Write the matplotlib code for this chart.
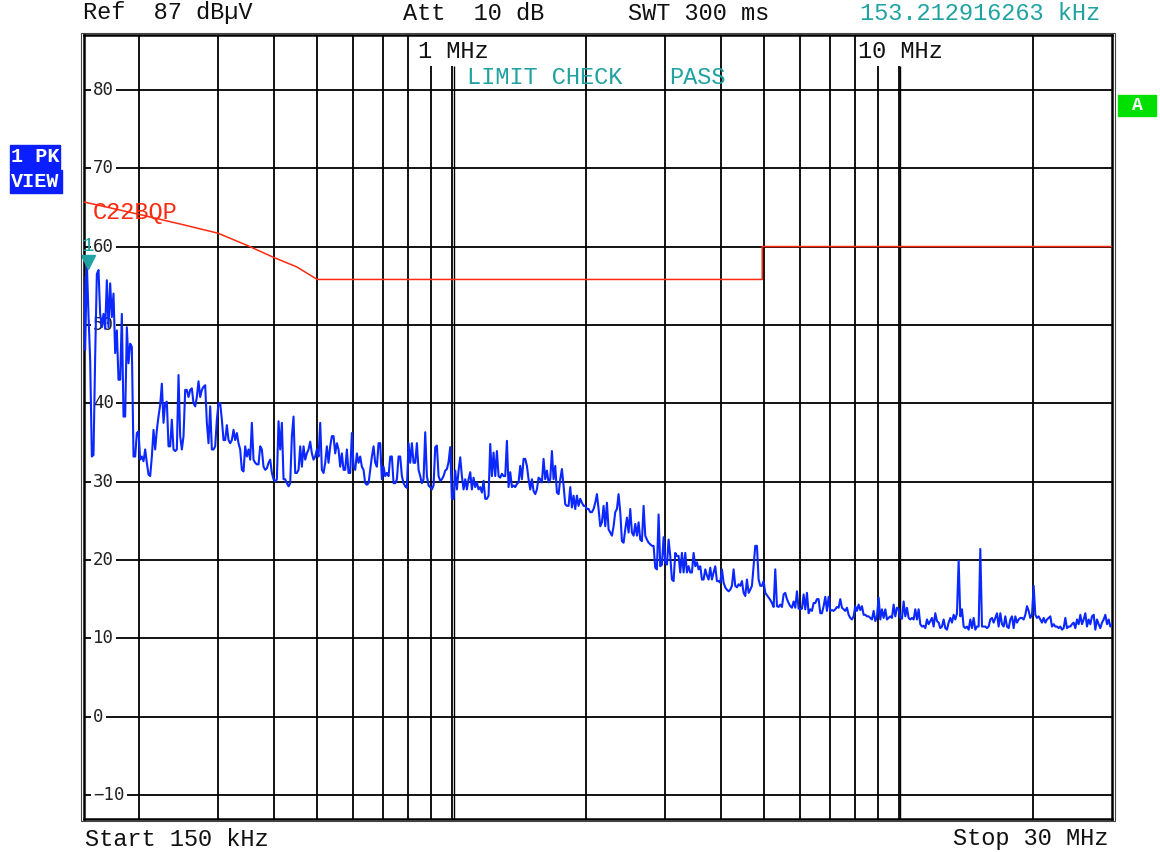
import numpy as np
import matplotlib
matplotlib.use("Agg")
import matplotlib.pyplot as plt
from matplotlib.patches import Rectangle

W, H = 1160, 852

# peak trace in dBuV, sweep points from 150 kHz up to 30 MHz (log sweep)
level_a = [56.1, 46.8, 58.0, 51.2, 45.5, 33.2, 33.4, 46.0, 56.5, 57.0,
           51.4, 49.7, 51.4, 49.5, 55.7, 49.7, 55.3, 51.0, 54.0, 46.4,
           49.3, 43.0, 43.0, 51.4, 38.3, 38.3, 49.7, 45.1, 47.6, 47.2,
           33.2, 33.2, 36.2, 36.4, 32.8, 33.2, 32.6, 34.1, 32.4, 30.9,
           30.7, 33.2, 36.6, 34.1, 36.6, 38.3, 39.8, 42.5, 37.5, 40.0,
           40.2, 34.5, 34.5, 37.9, 34.1, 33.9, 34.1, 43.6, 35.8, 34.1,
           35.8, 41.7, 41.7, 40.8, 41.7, 41.9, 40.0, 39.6, 40.8, 42.8,
           40.8, 41.7, 42.1, 42.3, 37.5, 34.9, 39.6, 34.1, 34.1, 34.5,
           37.9, 40.0, 40.0, 37.9, 35.3, 35.3, 37.2, 35.3, 34.9, 35.3,
           36.6, 35.3, 36.2, 34.9, 34.1, 31.5, 31.3, 34.5, 33.2, 34.1,
           32.8, 37.5, 32.8, 32.4, 32.2, 32.2, 34.5, 34.1, 31.9, 31.5,
           31.7, 32.4, 32.8, 31.1, 30.3, 30.0, 30.3, 37.7, 34.1, 37.5,
           30.3, 30.3, 29.8, 29.4, 29.8, 35.8, 38.3, 31.1, 31.1, 31.5,
           34.5, 31.9, 34.5, 32.8, 33.6, 34.1, 35.1, 33.6, 32.8, 33.2,
           34.1, 33.2, 37.5, 31.5, 31.1, 32.4, 34.5, 32.4, 34.5, 35.8,
           35.8, 33.6, 34.9, 34.1, 31.9, 33.6, 31.5, 31.5, 34.1, 31.1,
           31.1, 36.2, 31.9, 31.5, 33.6, 32.4, 33.2, 31.9, 31.5, 29.8,
           29.6, 29.8, 31.5, 33.2, 34.5, 32.4, 31.9, 34.9, 34.9, 30.3,
           31.9, 30.7, 31.1, 30.7, 33.2, 33.2, 29.8, 29.8, 30.3, 33.2,
           33.2, 30.7, 29.8, 29.4, 29.2, 34.9, 32.4, 34.9, 32.4, 32.4,
           34.9, 31.5, 30.7, 29.8]
level_b = [30.3, 36.3, 30.7, 29.5, 29.3, 29.0, 29.5, 34.4, 34.6, 30.7,
           30.1, 30.3, 30.7, 31.4, 31.6, 32.5, 34.4, 27.8, 27.8, 31.4,
           29.0, 31.4, 33.1, 30.7, 29.0, 30.3, 29.0, 30.3, 31.2, 29.0,
           30.5, 29.3, 29.9, 29.0, 29.3, 28.6, 30.1, 27.8, 27.8, 28.2,
           34.8, 30.7, 33.7, 30.7, 33.9, 30.7, 30.5, 31.0, 30.7, 30.7,
           35.2, 29.3, 31.2, 29.3, 29.5, 29.3, 29.7, 29.9, 32.0, 30.3,
           32.9, 32.9, 32.0, 30.3, 29.0, 30.3, 28.8, 28.4, 29.0, 30.5,
           30.3, 29.9, 32.9, 30.3, 31.4, 29.9, 30.3, 33.9, 30.3, 32.0,
           28.6, 28.4, 30.3, 31.6, 29.5, 27.1, 26.9, 26.9, 29.3, 26.7,
           28.2, 26.5, 28.2, 26.9, 27.8, 27.3, 26.9, 26.9, 26.5, 26.5,
           26.1, 26.1, 26.5, 27.3, 28.4, 26.5, 24.3, 24.8, 26.9, 24.3,
           27.3, 23.9, 23.5, 23.1, 24.3, 26.1, 26.5, 28.4, 26.1, 22.4,
           22.2, 23.9, 25.4, 23.5, 26.5, 23.5, 23.1, 24.6, 23.1, 24.8,
           22.6, 22.4, 26.9, 23.1, 22.6, 22.2, 22.0, 21.8, 21.8, 19.0,
           18.8, 25.8, 19.2, 19.4, 22.9, 19.7, 19.4, 22.6, 20.5, 17.5,
           17.3, 20.9, 20.5, 20.5, 18.4, 20.9, 18.4, 20.9, 18.4, 19.2,
           18.4, 18.4, 20.9, 19.2, 19.7, 18.8, 19.2, 17.5, 17.5, 18.8,
           18.0, 17.5, 19.0, 17.5, 18.4, 19.2, 17.3, 17.3, 17.1, 18.8,
           17.1, 16.5, 16.2, 16.0, 16.2, 16.7, 18.8, 16.7, 16.5, 16.9,
           16.7, 17.3, 15.8, 15.4, 17.5, 15.8, 16.2, 16.7, 19.2, 21.8,
           21.8, 17.5, 16.7, 16.7]
level_c = [17.3, 15.8, 15.5, 15.2, 14.9, 14.5, 14.0, 18.8, 14.1, 14.0,
           14.3, 14.0, 15.6, 15.8, 15.0, 14.5, 14.1, 13.9, 14.7, 13.9,
           16.0, 13.8, 13.7, 13.8, 15.6, 13.7, 15.8, 13.2, 13.7, 13.5,
           14.5, 14.5, 15.0, 15.0, 13.2, 13.2, 14.1, 15.3, 13.5, 15.3,
           13.5, 13.6, 13.5, 13.7, 14.0, 13.9, 15.0, 13.9, 13.7, 13.5,
           13.9, 13.0, 12.6, 12.4, 12.8, 14.1, 13.5, 14.3, 13.6, 14.1,
           13.0, 13.0, 12.8, 12.8, 12.6, 12.4, 13.5, 12.2, 12.8, 15.2,
           12.4, 13.7, 12.6, 13.7, 12.4, 12.6, 12.8, 12.6, 14.3, 12.8,
           13.9, 13.7, 12.6, 12.5, 14.7, 12.8, 13.9, 12.6, 12.4, 12.6,
           12.4, 13.7, 12.4, 13.7, 11.8, 11.5, 11.6, 11.3, 12.4, 11.8,
           12.2, 12.6, 11.5, 13.2, 12.2, 12.0, 11.3, 11.5, 12.4, 11.3,
           11.1, 12.0, 12.6, 12.0, 13.0, 12.4, 13.2, 19.9, 12.8, 13.7,
           11.5, 11.3, 11.5, 11.1, 12.4, 11.3, 12.6, 11.1, 11.5, 11.5,
           21.4, 11.5, 11.5, 11.5, 11.3, 11.5, 12.4, 12.6, 12.0, 12.6,
           13.2, 11.5, 13.2, 11.8, 11.5, 12.8, 11.5, 11.3, 12.4, 12.8,
           11.3, 12.8, 12.0, 12.4, 12.6, 12.6, 12.4, 13.0, 14.1, 13.5,
           12.6, 13.0, 16.7, 13.0, 12.6, 12.8, 12.4, 12.0, 12.6, 12.0,
           12.4, 12.6, 12.8, 11.5, 11.8, 11.5, 11.5, 11.3, 11.5, 11.1,
           11.3, 12.6, 11.3, 11.5, 11.5, 11.8, 12.0, 11.3, 12.4, 11.8,
           13.0, 11.8, 12.4, 13.2, 11.5, 12.4, 11.8, 12.8, 13.0, 11.1,
           12.4, 11.8, 11.3, 12.0, 12.4, 13.0, 11.8, 12.4, 11.5, 11.8]
levels = level_a + level_b + level_c
freq = np.geomspace(0.15, 30, len(levels))  # MHz

# limit line C22BQP
limit_f = [0.15, 0.2, 0.25, 0.3, 0.35, 0.4, 0.45, 0.5, 4.95, 4.95, 30]
limit_v = [65.7, 64.1, 62.8, 61.7, 60.1, 58.6, 57.4, 55.8, 55.8, 60.0, 60.0]

grid_full = [0.2, 0.3, 0.4, 0.5, 0.6, 0.7, 0.8, 2, 3, 4, 5, 6, 7, 8, 20]
grid_short = [0.9, 1, 9, 10]
grid_double = [1, 10]
ylevels = list(range(-10, 81, 10))

marker_f = 0.1532
marker_lvl = 58.0

teal = '#20a2a2'
blue = '#0a28ff'
red = '#ff2a10'
mono = 'Liberation Mono'


def fx(x):
    return x / W


def fy(y):
    return 1 - y / H


fig = plt.figure(figsize=(W / 100, H / 100), dpi=100)
ax = fig.add_axes([fx(83.5), fy(818.5), (1112 - 83.5) / W, (818.5 - 35) / H])
ax.set_xscale('log')
ax.set_xlim(0.15, 30)
ax.set_ylim(-13, 87)
ax.tick_params(which='both', length=0, labelbottom=False, labelleft=False)
for s in ax.spines.values():
    s.set_linewidth(1.8)
    s.set_color('black')

# grid
for v in ylevels:
    ax.axhline(v, color='black', lw=1.3, zorder=1)
for f in grid_full:
    ax.axvline(f, color='black', lw=1.3, zorder=1)
ax.vlines(grid_short, -13, 83, color='black', lw=1.3, zorder=1)
ax.vlines([f * 1.009 for f in grid_double], -13, 83, color='black', lw=1.0, zorder=1)

# level labels inside the grid
for v in ylevels:
    lab = str(v).replace('-', '\u2212')
    ax.text(0.0092, v, lab, transform=ax.get_yaxis_transform(), ha='left',
            va='center', fontsize=12.5, family='DejaVu Sans Mono', color='#222222',
            bbox=dict(facecolor='white', edgecolor='none', pad=1.5), zorder=2)

ax.plot(limit_f, limit_v, color=red, lw=1.1, zorder=3)
ax.plot(freq, levels, color=blue, lw=1.5, zorder=4)
ax.plot(marker_f, marker_lvl, marker='v', ms=10, color=teal, zorder=5, clip_on=False)
ax.annotate('1', (marker_f, marker_lvl), xytext=(0, 12), textcoords='offset points',
            ha='center', va='center', color=teal, family=mono, fontsize=15, zorder=5)

# outer thin frame
fig.patches.append(Rectangle((fx(80.5), fy(821)), (1115 - 80.5) / W, (821 - 32.5) / H,
                             transform=fig.transFigure, fill=False, lw=0.8,
                             edgecolor='#444444'))

fs = 17
fig.text(fx(83), fy(13), 'Ref  87 dB\u00b5V', family=mono, fontsize=fs, va='center', color='#111111')
fig.text(fx(403), fy(13), 'Att  10 dB', family=mono, fontsize=fs, va='center', color='#111111')
fig.text(fx(628), fy(13), 'SWT 300 ms', family=mono, fontsize=fs, va='center', color='#111111')
fig.text(fx(860), fy(13), '153.212916263 kHz', family=mono, fontsize=fs, va='center', color=teal)
fig.text(fx(85), fy(839), 'Start 150 kHz', family=mono, fontsize=fs, va='center', color='#111111')
fig.text(fx(1108), fy(839), 'Stop 30 MHz', family=mono, fontsize=fs, va='center', ha='right', color='#111111')
fig.text(fx(418), fy(51), '1 MHz', family=mono, fontsize=fs, va='center', color='#111111')
fig.text(fx(858), fy(51), '10 MHz', family=mono, fontsize=fs, va='center', color='#111111')
fig.text(fx(467), fy(78), 'LIMIT CHECK', family=mono, fontsize=fs, va='center', color=teal)
fig.text(fx(669), fy(78), 'PASS', family=mono, fontsize=fs, va='center', color=teal)
fig.text(fx(93), fy(212), 'C22BQP', family=mono, fontsize=fs, va='center', color=red)

# side boxes
for (x0, y0, x1, y1, txt) in [(10, 145, 60, 169, '1 PK'), (10, 170, 62, 193, 'VIEW')]:
    fig.patches.append(Rectangle((fx(x0), fy(y1)), (x1 - x0) / W, (y1 - y0) / H,
                                 transform=fig.transFigure, color='#0a1eff'))
    fig.text(fx(x0 + 1), fy((y0 + y1) / 2), txt, family=mono, fontsize=14.5,
             weight='bold', color='white', va='center')
fig.patches.append(Rectangle((fx(1118), fy(116)), 38 / W, 21 / H,
                             transform=fig.transFigure, color='#00e000'))
fig.text(fx(1137), fy(105.5), 'A', family=mono, fontsize=13, weight='bold',
         color='white', va='center', ha='center')

fig.savefig('out.png', dpi=100)
